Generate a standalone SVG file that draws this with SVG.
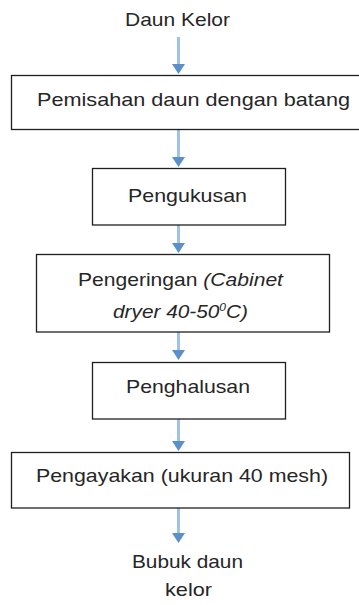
<svg xmlns="http://www.w3.org/2000/svg" width="359" height="605" viewBox="0 0 359 605">
  <style>
    .bg { fill: #ffffff; }
    .box { fill: #ffffff; stroke: #1f1f1f; stroke-width: 1.3; }
    .lbl { font-family: "Liberation Sans", Arial, sans-serif; font-size: 19px; fill: #262626; }
    .it { font-style: italic; }
    .conn { stroke: #9DC3E6; stroke-width: 3; fill: none; }
  </style>
  <defs>
    <marker id="arr" markerUnits="userSpaceOnUse" markerWidth="11" markerHeight="13" refX="0" refY="6.5" orient="auto" overflow="visible">
      <path d="M0,0 L10,6.5 L0,13 z" fill="#5B8FCB"/>
    </marker>
  </defs>
  <rect class="bg" x="0" y="0" width="359" height="605"/>

  <g id="connectors">
    <line class="conn" x1="178.5" y1="37" x2="178.5" y2="64" marker-end="url(#arr)"/>
    <line class="conn" x1="178.5" y1="129" x2="178.5" y2="157" marker-end="url(#arr)"/>
    <line class="conn" x1="178.5" y1="225" x2="178.5" y2="243" marker-end="url(#arr)"/>
    <line class="conn" x1="178.5" y1="332" x2="178.5" y2="350" marker-end="url(#arr)"/>
    <line class="conn" x1="178.5" y1="419" x2="178.5" y2="441" marker-end="url(#arr)"/>
    <line class="conn" x1="178.5" y1="508" x2="178.5" y2="533" marker-end="url(#arr)"/>
  </g>

  <g id="start">
    <text class="lbl" x="125" y="26" textLength="105" lengthAdjust="spacingAndGlyphs">Daun Kelor</text>
  </g>

  <g id="pemisahan">
    <rect class="box" x="11.5" y="75.5" width="352" height="54"/>
    <text class="lbl" x="37" y="106" textLength="313" lengthAdjust="spacingAndGlyphs">Pemisahan daun dengan batang</text>
  </g>

  <g id="pengukusan">
    <rect class="box" x="92.5" y="168.5" width="193" height="56.5"/>
    <text class="lbl" x="128" y="202" textLength="119" lengthAdjust="spacingAndGlyphs">Pengukusan</text>
  </g>

  <g id="pengeringan">
    <rect class="box" x="36.5" y="254.5" width="293" height="77.5"/>
    <text class="lbl" x="78" y="286" textLength="205" lengthAdjust="spacingAndGlyphs">Pengeringan <tspan class="it">(Cabinet</tspan></text>
    <text class="lbl it" x="113" y="318" textLength="135" lengthAdjust="spacingAndGlyphs">dryer 40-50<tspan font-size="11" dy="-7">0</tspan><tspan dy="7">C)</tspan></text>
  </g>

  <g id="penghalusan">
    <rect class="box" x="92.5" y="362.5" width="193" height="56.5"/>
    <text class="lbl" x="126" y="393" textLength="124" lengthAdjust="spacingAndGlyphs">Penghalusan</text>
  </g>

  <g id="pengayakan">
    <rect class="box" x="11.5" y="452.5" width="338" height="55.5"/>
    <text class="lbl" x="36" y="482" textLength="292" lengthAdjust="spacingAndGlyphs">Pengayakan (ukuran 40 mesh)</text>
  </g>

  <g id="end">
    <text class="lbl" x="132" y="568" textLength="111" lengthAdjust="spacingAndGlyphs">Bubuk daun</text>
    <text class="lbl" x="165" y="596" textLength="47" lengthAdjust="spacingAndGlyphs">kelor</text>
  </g>
</svg>
